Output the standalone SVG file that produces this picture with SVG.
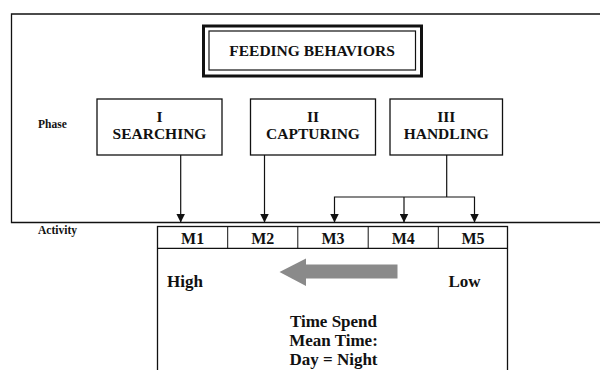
<svg xmlns="http://www.w3.org/2000/svg" width="600" height="370" viewBox="0 0 600 370">
<style>
text{font-family:"Liberation Serif","Times New Roman",serif;font-weight:bold;fill:#111;}
.box{fill:#fff;stroke:#111;stroke-width:1.3;}
.c{text-anchor:middle;}
.lbl{font-size:11.5px;}
.ph{font-size:15.5px;}
.m{font-size:16px;}
.big{font-size:17px;}
.conn line, .conn polyline{stroke:#111;stroke-width:1.2;fill:none;}
</style>
<defs>
<marker id="ah" markerWidth="9" markerHeight="9" viewBox="0 0 9 9" refX="9" refY="4.5" orient="auto-start-reverse" markerUnits="userSpaceOnUse">
<path d="M0,0 L9,4.5 L0,9 Z" fill="#111"/>
</marker>
</defs>
<rect width="600" height="370" fill="#fff"/>
<g id="frame">
<polyline points="601,14 11.5,14 11.5,222.5 601,222.5" fill="none" stroke="#111" stroke-width="1.3"/>
</g>
<g id="title">
<rect x="203.5" y="26" width="218" height="50" fill="#fff" stroke="#111" stroke-width="3"/>
<rect x="209" y="31" width="206.5" height="39" fill="none" stroke="#111" stroke-width="1.2"/>
<text x="312" y="55.5" class="c" font-size="15.5">FEEDING BEHAVIORS</text>
</g>
<g id="phase-label"><text x="38" y="128" class="lbl">Phase</text></g>
<g id="activity-label"><text x="38" y="234" class="lbl">Activity</text></g>
<g id="searching">
<rect class="box" x="97" y="99" width="125" height="56"/>
<text x="159.5" y="122" class="c ph">I</text>
<text x="159.5" y="139" class="c ph">SEARCHING</text>
</g>
<g id="capturing">
<rect class="box" x="250.5" y="99" width="125" height="56"/>
<text x="313" y="122" class="c ph">II</text>
<text x="313" y="139" class="c ph">CAPTURING</text>
</g>
<g id="handling">
<rect class="box" x="390" y="99" width="112.5" height="56"/>
<text x="446.3" y="122" class="c ph">III</text>
<text x="446.3" y="139" class="c ph">HANDLING</text>
</g>
<g id="connectors" class="conn">
<line x1="180.7" y1="155" x2="180.7" y2="222.5" marker-end="url(#ah)"/>
<line x1="264.5" y1="155" x2="264.5" y2="222.5" marker-end="url(#ah)"/>
<line x1="446.7" y1="155" x2="446.7" y2="197"/>
<polyline points="334.5,222.5 334.5,197 474.5,197 474.5,222.5" marker-start="url(#ah)" marker-end="url(#ah)"/>
<line x1="404" y1="197" x2="404" y2="222.5" marker-end="url(#ah)"/>
</g>
<g id="activity-table">
<rect x="157.5" y="226.5" width="350" height="160" fill="#fff" stroke="#111" stroke-width="1.3"/>
<line x1="157.5" y1="248.3" x2="507.5" y2="248.3" stroke="#111" stroke-width="1.2"/>
<line x1="227.7" y1="226.5" x2="227.7" y2="248.3" stroke="#111" stroke-width="1"/>
<line x1="297.8" y1="226.5" x2="297.8" y2="248.3" stroke="#111" stroke-width="1"/>
<line x1="368.2" y1="226.5" x2="368.2" y2="248.3" stroke="#111" stroke-width="1"/>
<line x1="438.3" y1="226.5" x2="438.3" y2="248.3" stroke="#111" stroke-width="1"/>
<text x="192.6" y="243.5" class="c m">M1</text>
<text x="262.7" y="243.5" class="c m">M2</text>
<text x="333" y="243.5" class="c m">M3</text>
<text x="403.2" y="243.5" class="c m">M4</text>
<text x="473" y="243.5" class="c m">M5</text>
<text x="167" y="287" class="big">High</text>
<text x="448.5" y="287" class="big">Low</text>
<path d="M279.5,272 L306,258.5 L306,264.5 L397.5,264.5 L397.5,278.5 L306,278.5 L306,286 Z" fill="#8a8a8a"/>
<text x="333.5" y="327" class="c big">Time Spend</text>
<text x="333.5" y="346" class="c big">Mean Time:</text>
<text x="333.5" y="365" class="c big">Day = Night</text>
</g>
</svg>
